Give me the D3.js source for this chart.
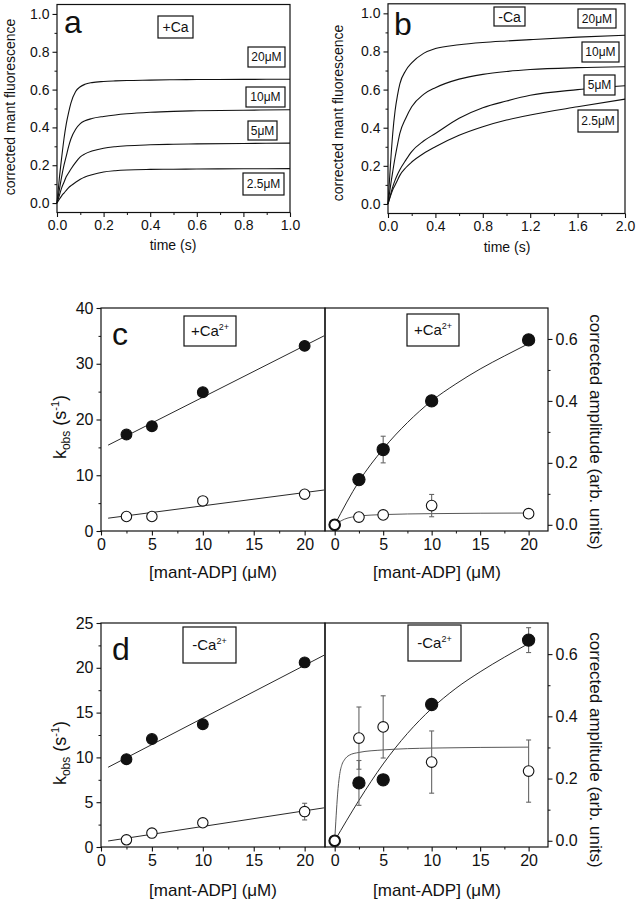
<!DOCTYPE html>
<html>
<head>
<meta charset="utf-8">
<script src="https://cdn.jsdelivr.net/npm/d3@7"></script>
<style>
  body { margin: 0; background: #fff; }
  svg { display: block; }
</style>
</head>
<body>
<script>
// figure data

// panel a (+Ca), fluorescence traces
const aTime = [0, 0.01, 0.02, 0.03, 0.04, 0.05, 0.06, 0.08, 0.1, 0.12, 0.15, 0.2, 0.25, 0.3, 0.4, 0.5, 0.6, 0.8, 1.0];
const aTrace20 = [0, 0.13, 0.24, 0.34, 0.42, 0.48, 0.53, 0.59, 0.615, 0.628, 0.637, 0.643, 0.646, 0.648, 0.65, 0.652, 0.653, 0.654, 0.655];
const aTrace10 = [0, 0.07, 0.14, 0.2, 0.25, 0.3, 0.34, 0.39, 0.42, 0.435, 0.447, 0.458, 0.466, 0.472, 0.48, 0.485, 0.488, 0.491, 0.493];
const aTrace5 = [0, 0.04, 0.08, 0.11, 0.14, 0.16, 0.18, 0.215, 0.244, 0.26, 0.275, 0.29, 0.298, 0.303, 0.308, 0.311, 0.313, 0.315, 0.317];
const aTrace2_5 = [0, 0.02, 0.038, 0.053, 0.067, 0.081, 0.092, 0.11, 0.126, 0.138, 0.15, 0.164, 0.171, 0.175, 0.178, 0.179, 0.18, 0.181, 0.182];

// panel b (-Ca)
const bTime = [0, 0.02, 0.04, 0.06, 0.08, 0.1, 0.15, 0.2, 0.3, 0.4, 0.6, 0.8, 1.0, 1.2, 1.6, 2.0];
const bTrace20 = [0, 0.2, 0.37, 0.49, 0.57, 0.63, 0.7, 0.74, 0.79, 0.815, 0.835, 0.847, 0.855, 0.862, 0.875, 0.885];
const bTrace10 = [0, 0.09, 0.17, 0.245, 0.31, 0.37, 0.45, 0.51, 0.575, 0.61, 0.655, 0.68, 0.695, 0.705, 0.715, 0.72];
const bTrace5 = [0, 0.045, 0.09, 0.125, 0.155, 0.18, 0.23, 0.275, 0.33, 0.37, 0.45, 0.505, 0.54, 0.57, 0.6, 0.62];
const bTrace2_5 = [0, 0.04, 0.075, 0.1, 0.125, 0.15, 0.19, 0.22, 0.265, 0.3, 0.36, 0.405, 0.44, 0.467, 0.51, 0.55];

// panels c/d, kobs vs [mant-ADP]
const conc = [2.5, 5, 10, 20];
const fitX = [0.7, 21.9];
const cKfast = [17.3, 18.8, 24.9, 33.2];
const cKslow = [2.6, 2.6, 5.4, 6.6];
const cFastFit = [15.4, 35.0];
const cSlowFit = [2.3, 7.35];
const dKfast = [9.8, 12.05, 13.7, 20.6];
const dKslow = [0.8, 1.55, 2.7, 3.95];
const dKslowErr = [0.3, 0.5, 0, 0.93];
const dFastFit = [8.9, 21.4];
const dSlowFit = [0.67, 4.37];

// amplitudes
const ampConc = [0, 2.5, 5, 10, 20];
const cAmpFast = [0.146, 0.243, 0.40, 0.597];
const cAmpFastErr = [0, 0.043, 0, 0];
const cAmpSlow = [0, 0.025, 0.032, 0.062, 0.036];
const cAmpSlowErr = [0, 0.013, 0.012, 0.036, 0];
const dAmpFast = [0.186, 0.196, 0.438, 0.645];
const dAmpFastErr = [0.072, 0, 0, 0.04];
const dAmpSlow = [0, 0.33, 0.366, 0.253, 0.224];
const dAmpSlowErr = [0, 0.1, 0.1, 0.1, 0.1];

// amplitude fit curves
const fastCurveX = [0, 2.5, 5, 7.5, 10, 12.5, 15, 17.5, 20];
const cFastCurve = [0, 0.14, 0.245, 0.33, 0.40, 0.455, 0.503, 0.545, 0.585];
const dFastCurve = [0, 0.13, 0.247, 0.345, 0.425, 0.49, 0.543, 0.59, 0.634];
const cSlowCurveX = [0, 0.5, 1, 2.5, 5, 10, 20];
const cSlowCurve = [0, 0.01, 0.018, 0.028, 0.033, 0.036, 0.038];
const dSlowCurveX = [0, 0.15, 0.3, 0.5, 0.75, 1, 1.5, 2.5, 5, 10, 20];
const dSlowCurve = [0, 0.08, 0.15, 0.21, 0.245, 0.26, 0.275, 0.284, 0.292, 0.298, 0.301];

// ---------------------------------------------------------------

const FONT = "'Liberation Sans', Arial, sans-serif";
const INK = "#111";

const svg = d3.select("body").append("svg")
  .attr("width", 639).attr("height", 900)
  .attr("font-family", FONT);

// draws one axis, major ticks with labels + minor ticks without
function drawAxis(kind, scale, pos, major, minor, fmt, fs) {
  const mk = {bottom: d3.axisBottom, left: d3.axisLeft, right: d3.axisRight}[kind];
  const tr = kind === "bottom" ? `translate(0,${pos})` : `translate(${pos},0)`;
  const gm = svg.append("g").attr("transform", tr)
    .call(mk(scale).tickValues(minor).tickSize(2.5).tickFormat(""));
  gm.select(".domain").remove();
  gm.selectAll("line").attr("stroke", INK);
  const g = svg.append("g").attr("transform", tr)
    .call(mk(scale).tickValues(major).tickSize(4.5).tickPadding(3).tickFormat(fmt));
  g.attr("font-family", FONT).attr("font-size", fs);
  g.select(".domain").remove();
  g.selectAll("line").attr("stroke", INK).attr("stroke-width", 1.1);
  g.selectAll("text").attr("fill", INK);
}

function frame(x, y, col) {
  const [x0, x1] = x.range(), [y0, y1] = y.range();
  svg.append("rect")
    .attr("x", x0).attr("y", Math.min(y0, y1))
    .attr("width", x1 - x0).attr("height", Math.abs(y0 - y1))
    .attr("fill", "none").attr("stroke", col || INK).attr("stroke-width", 1.2);
}

// legend box with centred text; parts = [[text, dy, size], ...]
function box(x0, y0, x1, y1, parts, fs) {
  svg.append("rect").attr("x", x0).attr("y", y0)
    .attr("width", x1 - x0).attr("height", y1 - y0)
    .attr("fill", "#fff").attr("stroke", INK).attr("stroke-width", 1.2);
  const t = svg.append("text")
    .attr("x", (x0 + x1) / 2).attr("y", (y0 + y1) / 2 + fs * 0.36)
    .attr("text-anchor", "middle").attr("font-size", fs).attr("fill", INK);
  parts.forEach(p => t.append("tspan").attr("dy", p[1] || 0)
    .attr("font-size", p[2] || fs).text(p[0]));
}

function label(x, y, txt, fs, rot, anchor) {
  const t = svg.append("text")
    .attr("transform", `translate(${x},${y}) rotate(${rot || 0})`)
    .attr("text-anchor", anchor || "middle")
    .attr("font-size", fs).attr("fill", INK);
  if (typeof txt === "string") t.text(txt);
  else txt.forEach(p => t.append("tspan").attr("dy", p[1] || 0)
    .attr("font-size", p[2] || fs).text(p[0]));
  return t;
}

const smooth = (x, y) => d3.line().x(d => x(d[0])).y(d => y(d[1])).curve(d3.curveMonotoneX);

/*
  Panels a and b: fluorescence transients
*/
const yTicksF = [0, 0.2, 0.4, 0.6, 0.8, 1.0];
const yMinorF = [0.1, 0.3, 0.5, 0.7, 0.9];

function transientPanel(x, y, time, traces, xMajor, xMinor) {
  frame(x, y);
  drawAxis("bottom", x, y.range()[0], xMajor, xMinor, d3.format(".1f"), 14);
  drawAxis("left", y, x.range()[0], yTicksF, yMinorF, d3.format(".1f"), 14);
  const line = smooth(x, y);
  traces.forEach(tr => {
    svg.append("path")
      .datum(time.map((t, i) => [t, tr[i]]))
      .attr("d", line).attr("fill", "none")
      .attr("stroke", INK).attr("stroke-width", 1.1);
  });
}

const xA = d3.scaleLinear().domain([0, 1]).range([57, 290]);
const yA = d3.scaleLinear().domain([-0.05, 1.05]).range([212.5, 4.5]);
transientPanel(xA, yA, aTime, [aTrace20, aTrace10, aTrace5, aTrace2_5],
  [0, 0.2, 0.4, 0.6, 0.8, 1.0], [0.1, 0.3, 0.5, 0.7, 0.9]);

const xB = d3.scaleLinear().domain([0, 2]).range([388, 625]);
const yB = d3.scaleLinear().domain([-0.05, 1.05]).range([213.5, 3.8]);
transientPanel(xB, yB, bTime, [bTrace20, bTrace10, bTrace5, bTrace2_5],
  [0, 0.4, 0.8, 1.2, 1.6, 2.0], [0.2, 0.6, 1.0, 1.4, 1.8]);

// panel a labels
label(64, 33, "a", 32, 0, "start");
box(158, 16, 193, 38, [["+Ca"]], 14);
box(248, 47, 285, 67, [["20\u03bcM"]], 12);
box(246, 87, 285, 107, [["10\u03bcM"]], 12);
box(248, 121, 277, 140, [["5\u03bcM"]], 12);
box(243, 173, 284, 195, [["2.5\u03bcM"]], 12);
label(15, 107, "corrected mant fluorescence", 14, -90);
label(173, 250, "time (s)", 14);

// panel b labels
label(394, 35, "b", 32, 0, "start");
box(494, 7, 525, 26, [["-Ca"]], 14);
box(578, 9, 616, 28, [["20\u03bcM"]], 12);
box(582, 42, 619, 62, [["10\u03bcM"]], 12);
box(584, 75, 615, 95, [["5\u03bcM"]], 12);
box(578, 110, 618, 132, [["2.5\u03bcM"]], 12);
label(343, 113, "corrected mant fluorescence", 14, -90);
label(507, 252, "time (s)", 14);

/*
  Panels c and d: kobs (left) and amplitude (right)
*/
const xMajorC = [0, 5, 10, 15, 20];
const xMinorC = [2.5, 7.5, 12.5, 17.5];

function circles(x, y, xs, ys, filled, r) {
  svg.append("g").selectAll("circle")
    .data(xs.map((v, i) => [v, ys[i]]))
    .join("circle")
    .attr("cx", d => x(d[0])).attr("cy", d => y(d[1]))
    .attr("r", r)
    .attr("fill", filled ? INK : "#fff")
    .attr("stroke", INK).attr("stroke-width", 1.1);
}

function errBars(x, y, xs, ys, es) {
  const g = svg.append("g").attr("stroke", "#666").attr("stroke-width", 1.1);
  xs.forEach((v, i) => {
    if (!es[i]) return;
    const cx = x(v), top = y(ys[i] + es[i]), bot = y(ys[i] - es[i]);
    g.append("line").attr("x1", cx).attr("x2", cx).attr("y1", top).attr("y2", bot);
    g.append("line").attr("x1", cx - 2.5).attr("x2", cx + 2.5).attr("y1", top).attr("y2", top);
    g.append("line").attr("x1", cx - 2.5).attr("x2", cx + 2.5).attr("y1", bot).attr("y2", bot);
  });
}

function kinPanel(top, bottom, kMax, kMajor, kMinor, d) {
  const xL = d3.scaleLinear().domain([0, 22]).range([101, 325]);
  const yL = d3.scaleLinear().domain([0, kMax]).range([bottom, top]);
  const xR = d3.scaleLinear().domain([-1, 22]).range([325, 548]);
  const yR = d3.scaleLinear().domain([-0.02, 0.70]).range([bottom, top]);

  // left: kobs
  const straight = d3.line().x(p => xL(p[0])).y(p => yL(p[1]));
  [d.fastFit, d.slowFit].forEach(f => {
    svg.append("path").datum(fitX.map((v, i) => [v, f[i]]))
      .attr("d", straight).attr("fill", "none")
      .attr("stroke", INK).attr("stroke-width", 0.9);
  });
  if (d.kSlowErr) errBars(xL, yL, conc, d.kSlow, d.kSlowErr);
  circles(xL, yL, conc, d.kSlow, false, 5.2);
  circles(xL, yL, conc, d.kFast, true, 5.4);

  // right: amplitudes
  svg.append("path").datum(fastCurveX.map((v, i) => [v, d.fastCurve[i]]))
    .attr("d", smooth(xR, yR)).attr("fill", "none")
    .attr("stroke", INK).attr("stroke-width", 0.9);
  svg.append("path").datum(d.slowCurveX.map((v, i) => [v, d.slowCurve[i]]))
    .attr("d", smooth(xR, yR)).attr("fill", "none")
    .attr("stroke", "#444").attr("stroke-width", 0.9);
  errBars(xR, yR, conc, d.ampFast, d.ampFastErr);
  errBars(xR, yR, ampConc, d.ampSlow, d.ampSlowErr);
  circles(xR, yR, conc, d.ampFast, true, 6.1);
  circles(xR, yR, ampConc, d.ampSlow, false, 5.3);
  svg.append("circle").attr("cx", xR(0)).attr("cy", yR(0)).attr("r", 5.3)
    .attr("fill", "none").attr("stroke", INK).attr("stroke-width", 2);

  frame(xL, yL);
  frame(xR, yR);
  drawAxis("bottom", xL, bottom, xMajorC, xMinorC, d3.format("d"), 16);
  drawAxis("left", yL, 101, kMajor, kMinor, d3.format("d"), 16);
  drawAxis("bottom", xR, bottom, xMajorC, xMinorC, d3.format("d"), 16);
  drawAxis("right", yR, 548, [0, 0.2, 0.4, 0.6], [0.1, 0.3, 0.5], d3.format(".1f"), 16);
}

kinPanel(308, 531, 40, [0, 10, 20, 30, 40], [5, 15, 25, 35], {
  kFast: cKfast, kSlow: cKslow, fastFit: cFastFit, slowFit: cSlowFit,
  ampFast: cAmpFast, ampFastErr: cAmpFastErr, ampSlow: cAmpSlow, ampSlowErr: cAmpSlowErr,
  fastCurve: cFastCurve, slowCurveX: cSlowCurveX, slowCurve: cSlowCurve
});

kinPanel(623, 847, 25, [0, 5, 10, 15, 20, 25], [2.5, 7.5, 12.5, 17.5, 22.5], {
  kFast: dKfast, kSlow: dKslow, kSlowErr: dKslowErr, fastFit: dFastFit, slowFit: dSlowFit,
  ampFast: dAmpFast, ampFastErr: dAmpFastErr, ampSlow: dAmpSlow, ampSlowErr: dAmpSlowErr,
  fastCurve: dFastCurve, slowCurveX: dSlowCurveX, slowCurve: dSlowCurve
});

// panel c labels
label(112, 345, "c", 32, 0, "start");
box(184, 316, 236, 346, [["+Ca"], ["2+", -6, 9]], 15);
box(407, 314, 459, 346, [["+Ca"], ["2+", -6, 9]], 15);
const kobs = [["k"], ["obs", 4, 12], [" (s", -4], ["-1", -7, 11], [")", 7]];
label(66, 427, kobs, 18, -90);
label(213, 578, "[mant-ADP] (\u03bcM)", 17);
label(437, 578, "[mant-ADP] (\u03bcM)", 17);
label(590, 432, "corrected amplitude (arb. units)", 17, 90);

// panel d labels
label(112, 660, "d", 32, 0, "start");
box(183, 627, 236, 663, [["-Ca"], ["2+", -6, 9]], 15);
box(408, 625, 461, 661, [["-Ca"], ["2+", -6, 9]], 15);
label(66, 753, kobs, 18, -90);
label(213, 896, "[mant-ADP] (\u03bcM)", 17);
label(437, 896, "[mant-ADP] (\u03bcM)", 17);
label(590, 750, "corrected amplitude (arb. units)", 17, 90);
</script>
</body>
</html>
